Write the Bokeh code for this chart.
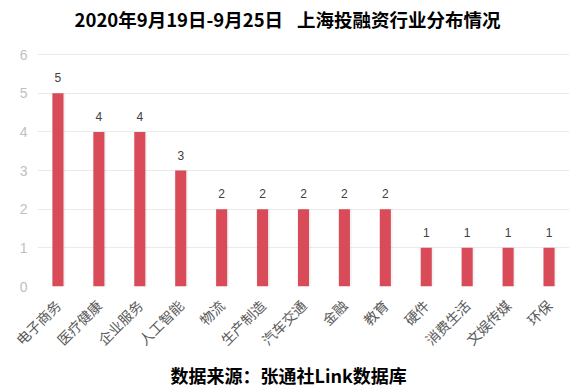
import math
from bokeh.plotting import figure
from bokeh.models import ColumnDataSource, FixedTicker, Title, Range1d, Label
from bokeh.transform import dodge
from bokeh.core.properties import value
from bokeh.embed import file_html
from bokeh.resources import INLINE

categories = ["电子商务", "医疗健康", "企业服务", "人工智能", "物流", "生产制造",
              "汽车交通", "金融", "教育", "硬件", "消费生活", "文娱传媒", "环保"]
counts = [5, 4, 4, 3, 2, 2, 2, 2, 2, 1, 1, 1, 1]
y_ticks = [0, 1, 2, 3, 4, 5, 6]
title_text = "2020年9月19日-9月25日\u2002\u2005上海投融资行业分布情况"
source_text = "数据来源：张通社Link数据库"

src = ColumnDataSource(dict(cat=categories, val=counts, lab=[str(v) for v in counts]))

# frame spans from the top of the canvas; y range top leaves room for the title
y_top = 6 * 286.7 / 232.4
p = figure(x_range=categories, y_range=Range1d(0, y_top), width=578, height=387,
           output_backend="svg", toolbar_location=None,
           min_border_left=37, min_border_right=9, min_border_top=0, min_border_bottom=100)
p.title.visible = False
p.outline_line_color = None
p.background_fill_color = "white"
p.border_fill_color = "white"

# shadow
p.vbar(x=dodge("cat", 0.015, range=p.x_range), top="val", width=0.33, source=src,
       fill_color="#000000", fill_alpha=0.05, line_color=None)
p.vbar(x="cat", top="val", width=0.27, source=src, fill_color="#D94B58", line_color=None)

p.text(x="cat", y="val", text="lab", source=src, text_align="center", text_baseline="bottom",
       y_offset=-11, text_font_size="12px", text_color="#404040",
       text_font=value("Liberation Sans"))

p.xgrid.grid_line_color = None
p.ygrid.grid_line_color = "#EBEBEB"
p.yaxis.ticker = FixedTicker(ticks=y_ticks)
for ax in (p.xaxis, p.yaxis):
    ax.axis_line_color = None
    ax.major_tick_line_color = None
    ax.minor_tick_line_color = None
p.yaxis.major_tick_out = 0
p.yaxis.major_label_text_color = "#BFBFBF"
p.yaxis.major_label_text_font_size = "14px"
p.yaxis.major_label_text_font = "Liberation Sans"
p.yaxis.major_label_standoff = 10
p.xaxis.major_label_orientation = math.pi / 4
p.xaxis.major_label_text_color = "#595959"
p.xaxis.major_label_text_font_size = "14px"
p.xaxis.major_label_text_font = "Noto Sans CJK SC"
p.xaxis.major_label_standoff = 10

p.add_layout(Label(x=250, y=267.5, x_units="screen", y_units="screen", text=title_text,
                   text_align="center", text_baseline="middle", text_font_size="18.5px",
                   text_font_style="bold", text_font="Noto Sans CJK SC", text_color="#000000"))

p.add_layout(Title(text=source_text, align="left", offset=133, standoff=0,
                   text_font="Noto Sans CJK SC", text_font_size="18px",
                   text_font_style="bold", text_color="#000000"), "below")

open("out.html", "w").write(file_html(p, INLINE))
